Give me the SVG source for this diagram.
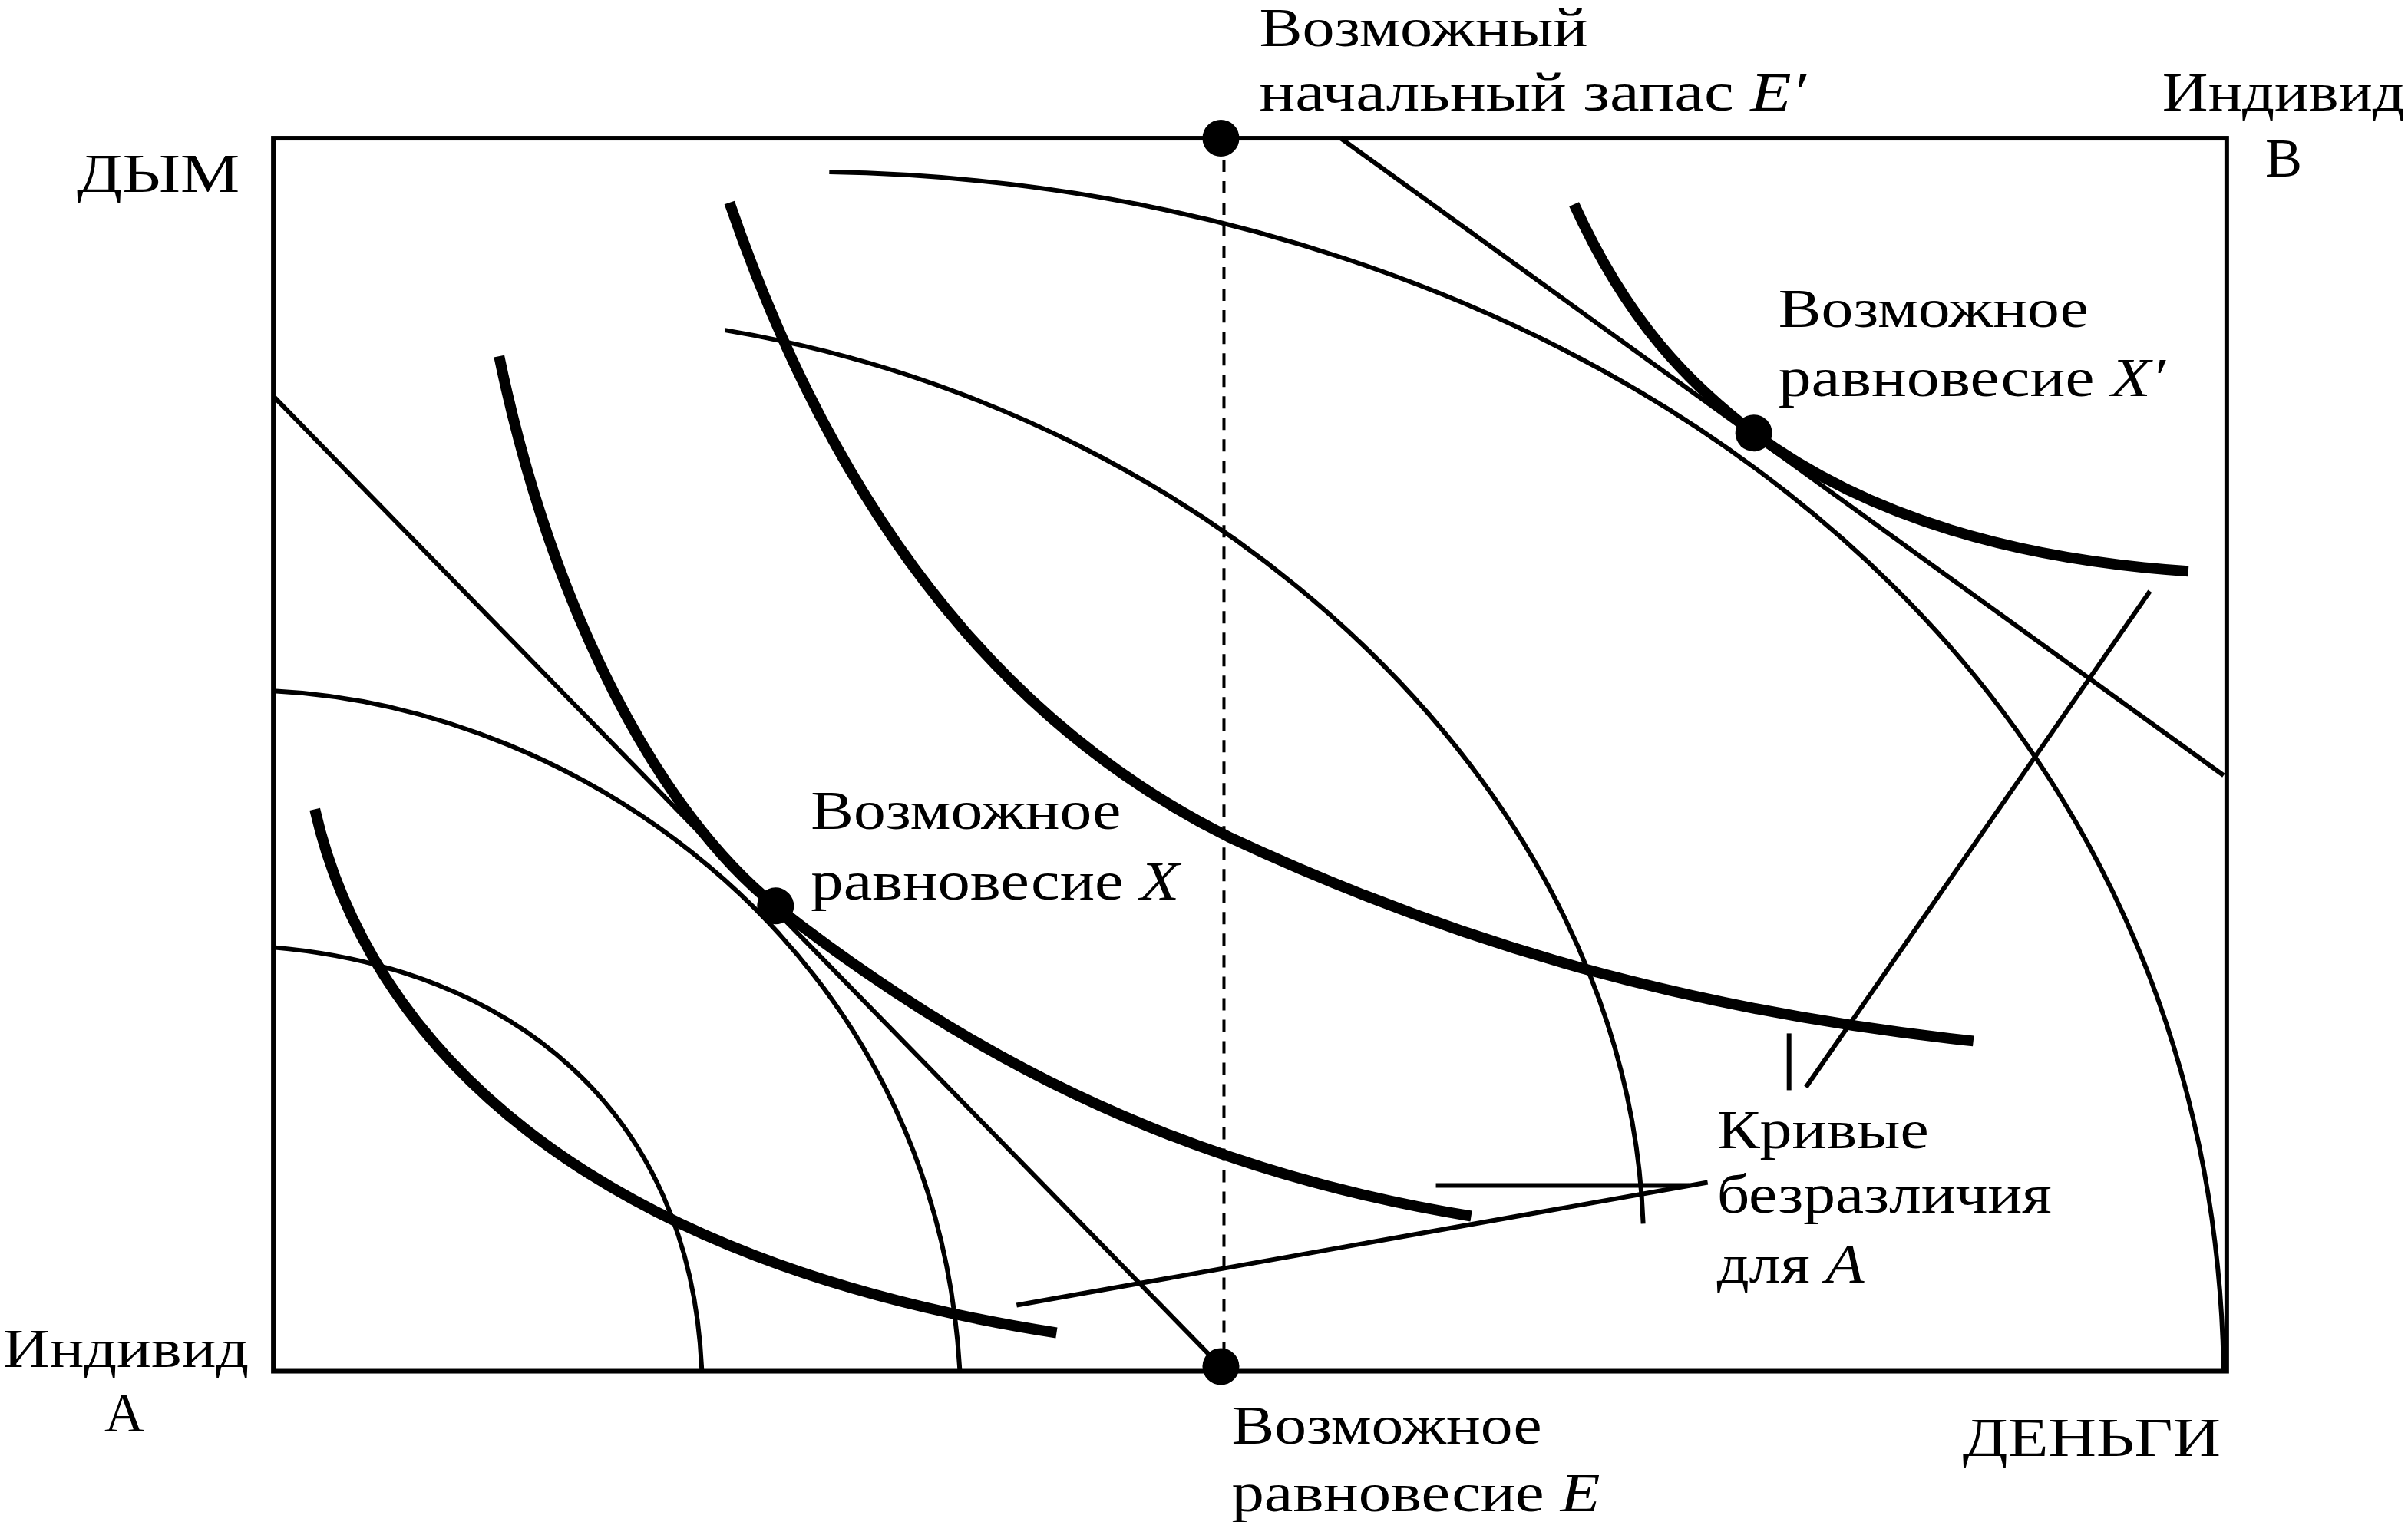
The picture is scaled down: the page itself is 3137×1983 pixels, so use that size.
<svg xmlns="http://www.w3.org/2000/svg" width="3137" height="1983" viewBox="0 0 3137 1983">
<style>
.t{font-family:"Liberation Serif","Times New Roman",serif;font-size:36px;fill:#000}
.i{font-style:italic}
.thick{fill:none;stroke:#000;stroke-width:7}
.thin{fill:none;stroke:#000;stroke-width:3}
</style>
<rect width="3137" height="1983" fill="#fff"/>
<g transform="scale(2.0006)">
<g id="frame"><rect x="178" y="90" width="1272" height="803" class="thin"/></g>
<g id="connectors">
<line x1="797" y1="90" x2="797" y2="893" stroke="#000" stroke-width="2" stroke-dasharray="8,6"/>
<line x1="178" y1="258" x2="795" y2="890" class="thin"/>
<line x1="873" y1="90" x2="1448" y2="505" class="thin"/>
<line x1="935" y1="772" x2="1100" y2="772" class="thin"/>
<line x1="662" y1="850" x2="1112" y2="770" class="thin"/>
<line x1="1165" y1="673" x2="1165" y2="710" class="thin"/>
<line x1="1176" y1="708" x2="1400" y2="385" class="thin"/>
</g>
<g id="curvesA">
<path d="M205,527 C240,680 380,820 688,868" class="thick"/>
<path d="M325,232 C360,400 430,530 505,590 C620,680 760,760 958,792" class="thick"/>
<path d="M475,132 C560,380 690,490 800,545 C950,615 1100,658 1285,678" class="thick"/>
<path d="M1025,133 C1060,210 1100,250 1142,282 C1220,340 1320,365 1425,372" class="thick"/>
</g>
<g id="curvesB">
<path d="M178,617 C330,630 450,720 457,893" class="thin"/>
<path d="M178,450 C380,460 610,620 625,893" class="thin"/>
<path d="M472,215 C800,270 1060,520 1070,797" class="thin"/>
<path d="M540,112 C1000,120 1440,400 1448,893" class="thin"/>
</g>
<g id="points">
<circle cx="795" cy="90" r="12"/>
<circle cx="795" cy="890" r="12"/>
<circle cx="505" cy="590" r="12"/>
<circle cx="1142" cy="282" r="12"/>
</g>
<g id="labels">
<text class="t" x="50" y="125" textLength="106" lengthAdjust="spacingAndGlyphs">ДЫМ</text>
<text class="t" x="1408" y="72" textLength="158" lengthAdjust="spacingAndGlyphs">Индивид</text>
<text class="t" x="1475" y="115">В</text>
<text class="t" x="2" y="890" textLength="160" lengthAdjust="spacingAndGlyphs">Индивид</text>
<text class="t" x="68" y="932">А</text>
<text class="t" x="1278" y="948" textLength="168" lengthAdjust="spacingAndGlyphs">ДЕНЬГИ</text>
<text class="t" x="820" y="30" textLength="214" lengthAdjust="spacingAndGlyphs">Возможный</text>
<text class="t" x="820" y="72" textLength="356" lengthAdjust="spacingAndGlyphs">начальный запас <tspan class="i">E′</tspan></text>
<text class="t" x="1158" y="213" textLength="202" lengthAdjust="spacingAndGlyphs">Возможное</text>
<text class="t" x="1158" y="258" textLength="252" lengthAdjust="spacingAndGlyphs">равновесие <tspan class="i">X′</tspan></text>
<text class="t" x="528" y="540" textLength="202" lengthAdjust="spacingAndGlyphs">Возможное</text>
<text class="t" x="528" y="586" textLength="240" lengthAdjust="spacingAndGlyphs">равновесие <tspan class="i">X</tspan></text>
<text class="t" x="1118" y="748" textLength="138" lengthAdjust="spacingAndGlyphs">Кривые</text>
<text class="t" x="1118" y="790" textLength="218" lengthAdjust="spacingAndGlyphs">безразличия</text>
<text class="t" x="1118" y="835" textLength="96" lengthAdjust="spacingAndGlyphs">для <tspan class="i">A</tspan></text>
<text class="t" x="802" y="940" textLength="202" lengthAdjust="spacingAndGlyphs">Возможное</text>
<text class="t" x="802" y="984" textLength="240" lengthAdjust="spacingAndGlyphs">равновесие <tspan class="i">E</tspan></text>
</g>
</g>
</svg>
